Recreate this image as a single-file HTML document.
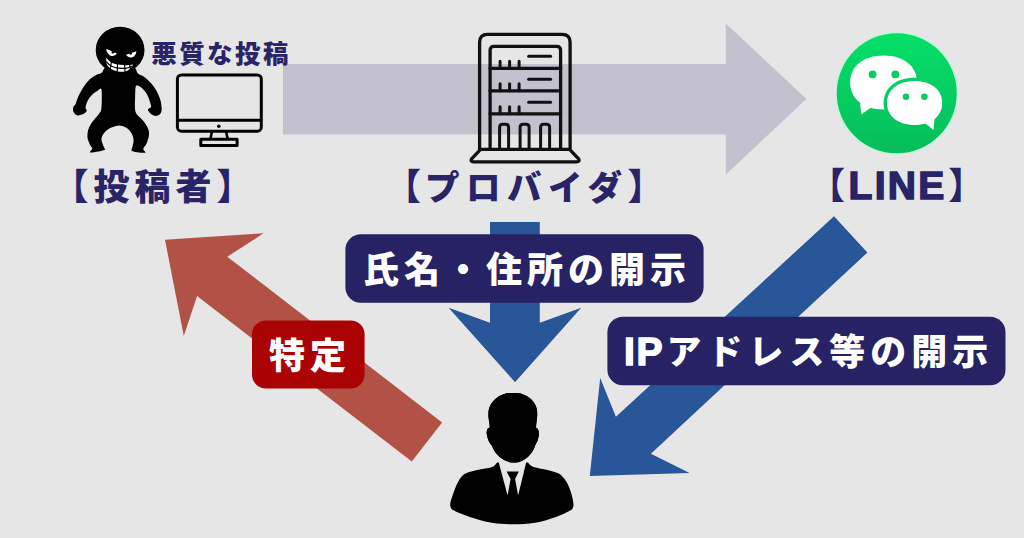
<!DOCTYPE html>
<html lang="ja">
<head>
<meta charset="utf-8">
<title>発信者情報開示請求の流れ</title>
<style>
html,body{margin:0;padding:0;background:#e6e6e6;}
body{width:1024px;height:538px;overflow:hidden;position:relative;font-family:"Liberation Sans","Noto Sans CJK JP",sans-serif;}
svg{position:absolute;left:0;top:0;display:block;}
.t{font-family:"Liberation Sans","Noto Sans CJK JP",sans-serif;font-weight:900;}
.big{font-size:36px;letter-spacing:5px;}
.navy{fill:#282467;}
.wh{fill:#ffffff;}
</style>
</head>
<body>
<svg width="1024" height="538" viewBox="0 0 1024 538">
<defs>
<linearGradient id="gg" x1="0" y1="0" x2="0" y2="1">
<stop offset="0" stop-color="#05df69"/>
<stop offset="1" stop-color="#06bd5b"/>
</linearGradient>
</defs>
<rect width="1024" height="538" fill="#e6e6e6"/>
<polygon points="283,64 725.8,64 725.8,23.4 806.4,98.9 725.8,174.6 725.8,134.6 283,134.6" fill="#c2c1cd"/>
<polygon points="490,222 539.8,222 539.8,322.7 581.2,307.8 515,382.2 448.6,307.8 490,322.7" fill="#295698"/>
<polygon points="834,216.3 867.4,252.5 650.9,453.7 689.6,473 589.8,475.9 600.2,378.1 615.9,416.8" fill="#295698"/>
<polygon points="165,239.8 263.5,233.3 227.3,256.7 442.1,422.4 411.8,461.4 197.1,296.1 183.8,335.9" fill="#b25146"/>
<g fill="#000">
<ellipse cx="120.1" cy="49.9" rx="24.4" ry="23.1"/>
<path d="M108.0,66.0 C103.0,67.1 103.8,71.3 101.8,72.8 C99.8,74.3 98.2,73.9 96.2,75.0 C94.2,76.1 91.5,77.6 89.5,79.5 C87.5,81.4 85.7,83.8 84.0,86.2 C82.3,88.6 80.7,91.6 79.5,94.0 C78.3,96.4 77.4,99.0 76.7,100.7 C76.0,102.4 76.1,103.0 75.6,104.0 C75.0,105.0 73.8,105.8 73.4,106.8 C73.0,107.8 72.8,109.1 73.0,110.2 C73.2,111.3 73.7,112.6 74.5,113.5 C75.3,114.4 76.6,115.2 77.8,115.4 C79.0,115.6 80.4,115.1 81.7,114.6 C83.0,114.1 84.8,113.1 85.6,112.4 C86.4,111.7 86.7,111.0 86.7,110.2 C86.7,109.5 85.6,109.1 85.6,107.9 C85.6,106.7 86.1,104.5 86.7,102.9 C87.3,101.3 88.0,100.0 89.0,98.5 C90.0,97.0 91.5,95.3 92.9,94.0 C94.3,92.7 95.9,91.7 97.3,90.9 C98.7,90.1 100.5,87.7 101.2,89.0 C102.0,90.3 101.8,95.1 101.8,98.5 C101.8,101.9 101.6,107.1 101.2,109.6 C100.8,112.0 100.4,111.8 99.4,113.2 C98.4,114.7 96.8,116.4 95.3,118.3 C93.8,120.2 91.9,122.4 90.7,124.4 C89.5,126.4 88.5,128.4 88.0,130.5 C87.5,132.6 87.3,134.8 87.4,136.7 C87.5,138.6 88.2,140.3 88.7,141.8 C89.2,143.3 90.1,144.8 90.7,145.9 C91.3,147.0 92.4,147.5 92.3,148.4 C92.2,149.3 90.5,150.8 90.2,151.5 C89.9,152.2 89.3,152.5 90.7,152.5 C92.1,152.5 96.1,151.9 98.4,151.5 C100.7,151.1 103.5,150.4 104.5,150.0 C105.5,149.6 105.0,149.8 104.7,148.9 C104.5,148.0 103.5,146.3 103.0,144.8 C102.5,143.3 101.5,141.4 101.5,139.7 C101.5,138.0 102.1,136.2 103.0,134.6 C103.9,133.0 105.5,131.3 107.1,130.0 C108.7,128.7 110.7,127.8 112.7,127.0 C114.7,126.2 117.2,125.4 119.3,125.4 C121.3,125.4 123.3,126.2 125.0,127.0 C126.7,127.8 128.3,129.1 129.6,130.5 C130.9,131.9 131.9,134.0 132.6,135.7 C133.3,137.4 133.6,139.1 133.6,140.8 C133.6,142.5 132.9,144.5 132.6,145.9 C132.3,147.3 131.7,148.6 131.6,149.4 C131.5,150.2 131.2,150.5 132.1,151.0 C133.0,151.5 135.1,151.9 137.2,152.2 C139.2,152.5 143.0,152.8 144.4,152.8 C145.8,152.8 145.6,152.7 145.4,152.0 C145.2,151.3 143.1,150.3 143.3,148.9 C143.5,147.5 145.5,145.8 146.4,143.8 C147.3,141.8 148.3,138.9 148.7,136.7 C149.1,134.5 149.2,132.6 148.7,130.5 C148.2,128.4 147.1,126.4 145.9,124.4 C144.7,122.5 142.8,120.5 141.3,118.8 C139.8,117.1 137.7,115.7 136.7,114.2 C135.7,112.8 135.5,111.8 135.2,110.1 C134.9,108.4 134.9,105.9 134.9,104.0 C134.9,102.1 135.0,101.3 135.1,98.5 C135.2,95.7 135.2,89.5 135.6,87.3 C136.0,85.1 136.2,85.4 137.3,85.6 C138.4,85.8 140.7,87.0 142.3,88.4 C143.9,89.8 145.6,92.0 146.8,94.0 C148.0,96.0 148.9,98.6 149.6,100.7 C150.3,102.8 151.2,105.6 151.2,106.8 C151.2,108.0 150.1,107.4 149.6,107.9 C149.1,108.4 148.0,108.9 147.9,109.6 C147.8,110.2 148.3,111.0 149.0,111.8 C149.7,112.6 150.7,113.9 151.8,114.6 C152.9,115.3 154.4,116.1 155.7,116.1 C157.0,116.1 158.7,115.3 159.6,114.6 C160.5,113.9 161.0,113.0 161.3,111.8 C161.6,110.6 161.8,109.4 161.6,107.4 C161.4,105.4 161.1,102.4 160.2,99.6 C159.3,96.8 157.9,93.4 156.3,90.6 C154.7,87.8 152.8,85.1 150.7,82.8 C148.6,80.5 146.1,78.3 144.0,76.7 C141.9,75.1 139.9,75.2 137.9,73.4 C135.9,71.6 137.0,67.2 132.0,66.0 C127.0,64.8 113.0,64.9 108.0,66.0 Z"/>
</g>
<g fill="#fff">
<path d="M106.2,48.8 L116.9,53.6 C115.6,55.6 113.2,56.4 111.2,55.9 C108.4,55.1 106.4,52.2 106.2,48.8 Z"/>
<path d="M136.4,51.2 L126.1,54.7 C127.4,56.9 129.5,57.7 131.6,57.4 C134.3,56.8 136.1,54.3 136.4,51.2 Z"/>
<path d="M106.4,57.8 C108,60 110,61.8 112.3,63 C114.8,64 117.5,64.5 120.1,64.7 C122.4,65 124.6,65.2 126.8,65.2 C129,65.2 131,65 133,64.5 C132.8,65.6 132.2,66.6 131.3,67.5 C129.8,69.2 127.9,70.6 125.7,71.3 C123.2,72 120.4,72 117.9,71.5 C115.5,71 113.2,70.3 111.2,69.1 C109.2,67.8 107.6,66 106.7,64 C106.2,62 106.1,59.9 106.4,57.8 Z"/>
</g>
<g stroke="#000" stroke-width="1.2" fill="none">
<path d="M106.3,61.6 C108,63.8 109.7,65.2 111.6,66.2 C113.8,67.2 116,67.8 118.5,68.1 C121,68.4 123.4,68.5 125.6,68.3 C127.9,68 130,67.3 132.3,66"/>
<path d="M111.4,61.8 L110.2,69.2"/>
<path d="M117.6,64 L117.2,71.8"/>
<path d="M124.6,64.8 L125,71.8"/>
<path d="M129.6,64.6 L130.4,69"/>
</g>
<circle cx="112.9" cy="52.3" r="1.3" fill="#000"/><circle cx="130.6" cy="53.5" r="1.3" fill="#000"/>
<g fill="none" stroke="#000" stroke-width="3" stroke-linejoin="round">
<rect x="177.4" y="74.9" width="83.9" height="56.3" rx="4" ry="4"/>
<line x1="177.4" y1="120.2" x2="261.3" y2="120.2"/>
<path d="M212,131.2 L210.5,138.6 M226,131.2 L227.6,138.6" stroke-width="2.6"/>
<rect x="200.8" y="139.2" width="36.3" height="6.2"/>
</g>
<circle cx="218.8" cy="126.3" r="1.8" fill="#000"/>
<g transform="translate(0.6,0.3)" fill="none" stroke="#111" stroke-width="3.3" stroke-linejoin="round" stroke-linecap="round">
<path d="M479,149 L479,42 Q479,34 487,34 L561.5,34 Q569.5,34 569.5,42 L569.5,149"/>
<path d="M489.5,149 L489.5,50 Q489.5,46 493.5,46 L556,46 Q560,46 560,50 L560,149"/>
<line x1="489.5" y1="68" x2="560" y2="68"/>
<line x1="489.5" y1="90.5" x2="560" y2="90.5"/>
<line x1="489.5" y1="113.5" x2="560" y2="113.5"/>
<path d="M480,149 L569,149 L578,158.5 Q579.5,161.5 576,161.5 L473,161.5 Q469.5,161.5 471,158.5 Z"/>
<g stroke-width="3">
<line x1="528" y1="56" x2="550" y2="56"/>
<line x1="528" y1="79" x2="550" y2="79"/>
<line x1="528" y1="102" x2="550" y2="102"/>
<path d="M499.5,68 V61 M509,68 V61 M518.5,68 V61"/>
<path d="M499.5,90.5 V83.500 M509,90.5 V83.500 M518.5,90.5 V83.500"/>
<path d="M499.5,113.5 V106.500 M509,113.5 V106.500 M518.5,113.5 V106.500"/>
<path d="M499,149 V127 Q499,124 502,124 H505 Q508,124 508,127 V149"/>
<path d="M519.5,149 V127 Q519.5,124 522.5,124 H525.5 Q528.5,124 528.5,127 V149"/>
<path d="M540,149 V127 Q540,124 543,124 H546 Q549,124 549,127 V149"/>
</g>
</g>
<mask id="mk" maskUnits="userSpaceOnUse" x="830" y="30" width="140" height="130">
<rect x="830" y="30" width="140" height="130" fill="#fff"/>
<path d="M883.1,102.9 C883.1,87.7 895.5,77.5 914.1,77.5 C932.7,77.5 945.1,87.7 945.1,102.9 C945.1,118.1 932.7,128.3 914.1,128.3 C895.5,128.3 883.1,118.1 883.1,102.9 Z" fill="#000"/>
</mask>
<g transform="translate(0.5,0.2)">
<circle cx="896.25" cy="93.1" r="61.5" fill="#c3f5da"/>
<circle cx="896.25" cy="93.1" r="60" fill="url(#gg)"/>
<g mask="url(#mk)" fill="#fff">
<path d="M849.6,82.4 C849.6,66.2 863.0,55.4 883.1,55.4 C903.2,55.4 916.6,66.2 916.6,82.4 C916.6,98.6 903.2,109.4 883.1,109.4 C863.0,109.4 849.6,98.6 849.6,82.4 Z"/>
<polygon points="859,98 860.9,114.2 875,104"/>
</g>
<path d="M886.5,102.9 C886.5,89.7 897.5,80.9 914.1,80.9 C930.7,80.9 941.7,89.7 941.7,102.9 C941.7,116.1 930.7,124.9 914.1,124.9 C897.5,124.9 886.5,116.1 886.5,102.9 Z" fill="#fff"/>
<polygon points="921,120 933,129.7 934.5,114" fill="#fff"/>
<g fill="#08cd62">
<circle cx="872.1" cy="74.2" r="3.9"/><circle cx="894.8" cy="74.2" r="3.9"/>
<circle cx="905.5" cy="96.6" r="3.3"/><circle cx="923.9" cy="96.6" r="3.3"/>
</g>
</g>
<g>
<path fill="#000" d="M513.5,393.0 C510.3,393.0 506.6,393.2 503.5,394.2 C500.4,395.2 497.4,397.1 495.1,399.2 C492.8,401.3 490.8,404.0 489.7,406.7 C488.6,409.4 488.4,411.8 488.4,415.1 C488.4,418.5 489.8,424.5 489.7,426.8 C489.6,429.1 488.1,427.7 487.6,428.8 C487.1,429.9 486.5,431.5 486.7,433.5 C486.9,435.5 487.9,439.0 488.7,441.0 C489.5,443.0 490.6,443.8 491.7,445.6 C492.8,447.4 493.4,449.7 495.1,451.9 C496.8,454.1 499.4,456.9 501.8,458.6 C504.2,460.3 507.4,461.6 509.3,462.3 C511.2,463.0 511.8,462.9 513.5,462.8 C515.2,462.7 517.1,462.7 519.3,461.9 C521.5,461.1 524.7,459.6 526.9,457.8 C529.1,456.0 531.3,453.2 532.7,451.1 C534.1,449.0 534.4,447.0 535.2,445.2 C536.0,443.4 537.1,442.1 537.7,440.2 C538.3,438.2 538.9,435.4 538.9,433.5 C538.9,431.6 538.2,429.9 537.7,428.8 C537.2,427.8 536.2,429.5 536.1,427.2 C536.0,424.9 537.2,418.5 537.2,415.1 C537.2,411.7 537.1,409.4 536.1,406.7 C535.1,404.0 533.3,401.3 531.1,399.2 C528.9,397.1 525.6,395.2 522.7,394.2 C519.8,393.2 516.7,393.0 513.5,393.0 Z"/>
<path fill="#000" d="M497.2,462.6 C496.3,463.4 495.3,465.9 492.0,467.1 C488.7,468.4 481.4,469.1 477.2,470.1 C473.0,471.1 469.5,471.8 466.8,473.0 C464.1,474.2 462.7,475.1 460.8,477.5 C458.9,479.9 457.1,483.8 455.6,487.2 C454.1,490.6 452.8,494.9 451.9,497.6 C451.0,500.3 450.5,501.9 450.3,503.5 C450.1,505.1 450.1,506.1 450.7,507.3 C451.3,508.5 450.8,509.0 454.0,510.6 C457.2,512.2 463.4,514.9 469.7,516.9 C476.0,518.9 484.8,521.6 492.0,522.8 C499.2,524.0 505.6,524.3 512.8,524.3 C520.0,524.3 527.9,524.0 535.1,522.8 C542.3,521.6 550.2,518.9 556.0,516.9 C561.8,514.9 567.0,512.4 569.8,510.8 C572.6,509.2 572.4,508.7 573.0,507.5 C573.6,506.3 573.6,505.6 573.4,503.5 C573.2,501.4 572.5,497.8 571.6,494.6 C570.7,491.4 569.3,487.2 567.8,484.2 C566.3,481.2 564.3,478.7 562.6,476.8 C560.9,474.9 560.5,474.2 557.4,473.0 C554.3,471.8 548.3,470.4 544.1,469.3 C539.9,468.2 534.9,467.5 532.2,466.4 C529.5,465.3 528.7,463.2 528.0,462.6 Z"/>
<polygon fill="#e6e6e6" points="498.5,461.6 526.4,461.6 518.3,494.8 507.4,494.8"/>
<path fill="#000" d="M513.5,393.0 C510.3,393.0 506.6,393.2 503.5,394.2 C500.4,395.2 497.4,397.1 495.1,399.2 C492.8,401.3 490.8,404.0 489.7,406.7 C488.6,409.4 488.4,411.8 488.4,415.1 C488.4,418.5 489.8,424.5 489.7,426.8 C489.6,429.1 488.1,427.7 487.6,428.8 C487.1,429.9 486.5,431.5 486.7,433.5 C486.9,435.5 487.9,439.0 488.7,441.0 C489.5,443.0 490.6,443.8 491.7,445.6 C492.8,447.4 493.4,449.7 495.1,451.9 C496.8,454.1 499.4,456.9 501.8,458.6 C504.2,460.3 507.4,461.6 509.3,462.3 C511.2,463.0 511.8,462.9 513.5,462.8 C515.2,462.7 517.1,462.7 519.3,461.9 C521.5,461.1 524.7,459.6 526.9,457.8 C529.1,456.0 531.3,453.2 532.7,451.1 C534.1,449.0 534.4,447.0 535.2,445.2 C536.0,443.4 537.1,442.1 537.7,440.2 C538.3,438.2 538.9,435.4 538.9,433.5 C538.9,431.6 538.2,429.9 537.7,428.8 C537.2,427.8 536.2,429.5 536.1,427.2 C536.0,424.9 537.2,418.5 537.2,415.1 C537.2,411.7 537.1,409.4 536.1,406.7 C535.1,404.0 533.3,401.3 531.1,399.2 C528.9,397.1 525.6,395.2 522.7,394.2 C519.8,393.2 516.7,393.0 513.5,393.0 Z"/>
<polygon fill="#000" points="506.6,471.6 518.8,471.6 515.1,479 518.2,496 507.5,496 510.6,479"/>
</g>
<rect x="345.4" y="234.3" width="358.2" height="68.4" rx="15.5" fill="#262264"/>
<rect x="607.4" y="316.7" width="398.1" height="68.5" rx="15.5" fill="#262264"/>
<rect x="252" y="320.4" width="112.6" height="68.2" rx="14" fill="#ab0303"/>
<text class="t navy" x="151.3" y="62.6" style="font-size:25.5px;letter-spacing:2.4px">悪質な投稿</text>
<text class="t big navy" x="52.4" y="200.2">【投稿者】</text>
<text class="t big navy" x="385" y="200.2">【<tspan x="425" dy="-0.6" style="font-size:34.5px;letter-spacing:6.5px">プロバイダ</tspan><tspan x="627.6" dy="0.6">】</tspan></text>
<text class="t big navy" x="809" y="198.6">【<tspan x="848.6" dy="0.7" style="font-size:39px;letter-spacing:2.3px;stroke:#282467;stroke-width:1.5px;stroke-linejoin:miter">LINE</tspan><tspan x="948.3" dy="-0.7">】</tspan></text>
<text class="t big wh" x="363" y="282.8">氏名・住所の開示</text>
<text class="t big wh" x="624" y="364.7"><tspan style="font-size:39px;letter-spacing:1.6px;stroke:#fff;stroke-width:1.5px">IP</tspan><tspan x="666.8" dy="-0.5" style="font-size:34.5px;letter-spacing:6.5px">アドレス</tspan><tspan x="829.3" dy="0.5">等の開示</tspan></text>
<text class="t big wh" x="269" y="368.7">特定</text>
</svg>
</body>
</html>
